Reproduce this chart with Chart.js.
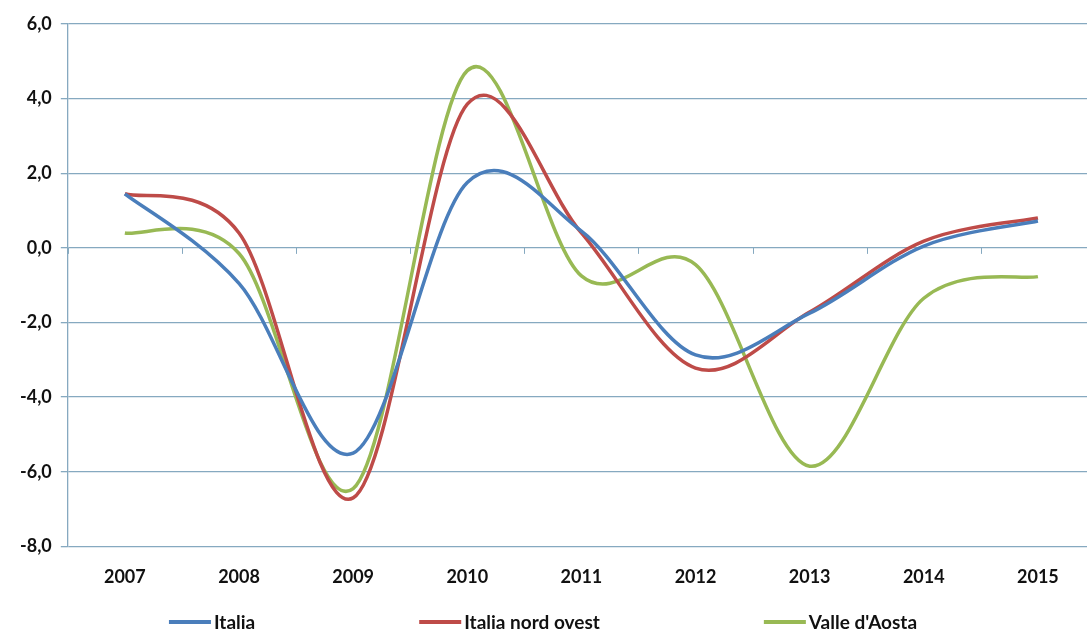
<!DOCTYPE html>
<html>
<head>
<meta charset="utf-8">
<script src="https://cdn.jsdelivr.net/npm/chart.js@4.4.1/dist/chart.umd.min.js"></script>
<style>
  html, body { margin: 0; padding: 0; background: #ffffff; overflow: hidden; }
  #wrap { width: 1095px; height: 631px; }
</style>
</head>
<body>
<div id="wrap"><canvas id="c" width="1095" height="631"></canvas></div>
<script>
// Annual change (%), 2007-2015
const years = ['2007', '2008', '2009', '2010', '2011', '2012', '2013', '2014', '2015'];
const italia = [1.45, -0.95, -5.5, 1.75, 0.45, -2.87, -1.75, 0.05, 0.72];
const italiaNordOvest = [1.45, 0.4, -6.7, 3.85, 0.4, -3.22, -1.72, 0.18, 0.8];
const valleDAosta = [0.4, -0.15, -6.45, 4.75, -0.75, -0.45, -5.85, -1.35, -0.77];
const seriesNames = ['Italia', 'Italia nord ovest', "Valle d'Aosta"];
const seriesColors = ['#4a7ebb', '#be4b48', '#98b954'];

const yMin = -8, yMax = 6, yStep = 2;
const gridColor = '#86a9c0';
const fontFamily = 'Lato, "Open Sans", sans-serif';
const tickFontSize = 18;
const legendFontSize = 19;

// smooth curves: Catmull-Rom style control points (1/6 of the neighbour span)
const catmullRom = {
  id: 'catmullRom',
  beforeDatasetDraw(chart, args) {
    const meta = args.meta;
    const pts = meta.data;
    for (let i = 0; i < pts.length; i++) {
      const p = pts[i];
      const prev = pts[i - 1] || p;
      const next = pts[i + 1] || p;
      const dx = (next.x - prev.x) / 6;
      const dy = (next.y - prev.y) / 6;
      p.cp1x = p.x - dx; p.cp1y = p.y - dy;
      p.cp2x = p.x + dx; p.cp2y = p.y + dy;
    }
    meta.dataset._pointsUpdated = true;
  }
};

// small tick marks along the zero line, between categories
const zeroLineTicks = {
  id: 'zeroLineTicks',
  afterDatasetsDraw(chart) {
    const xs = chart.scales.x, ys = chart.scales.y;
    const ctx = chart.ctx;
    const y0 = ys.getPixelForValue(0);
    const half = (xs.getPixelForValue(1) - xs.getPixelForValue(0)) / 2;
    ctx.save();
    ctx.strokeStyle = gridColor;
    ctx.lineWidth = 1;
    for (let i = 0; i <= years.length; i++) {
      const x = Math.round(xs.getPixelForValue(i) - half) + 0.5;
      ctx.beginPath();
      ctx.moveTo(x, y0);
      ctx.lineTo(x, y0 + 6);
      ctx.stroke();
    }
    ctx.restore();
  }
};

// legend row with wide, even spacing between entries
const spacedLegend = {
  id: 'spacedLegend',
  afterDraw(chart) {
    const ctx = chart.ctx;
    const lineLen = 42, textGap = 3, itemGap = 164;
    const centerX = 543, y = 622;
    ctx.save();
    ctx.font = `bold ${legendFontSize}px ${fontFamily}`;
    ctx.textBaseline = 'middle';
    ctx.textAlign = 'left';
    const items = chart.data.datasets.map(ds => ({
      text: ds.label,
      color: ds.borderColor,
      w: lineLen + textGap + ctx.measureText(ds.label).width
    }));
    const total = items.reduce((s, it) => s + it.w, 0) + itemGap * (items.length - 1);
    let x = centerX - total / 2;
    items.forEach(it => {
      ctx.strokeStyle = it.color;
      ctx.lineWidth = 4;
      ctx.beginPath();
      ctx.moveTo(x, y);
      ctx.lineTo(x + lineLen, y);
      ctx.stroke();
      ctx.fillStyle = '#111111';
      ctx.fillText(it.text, x + lineLen + textGap, y + 1);
      x += it.w + itemGap;
    });
    ctx.restore();
  }
};

const data = {
  labels: years,
  datasets: [italia, italiaNordOvest, valleDAosta].map((vals, i) => ({
    label: seriesNames[i],
    data: vals,
    borderColor: seriesColors[i],
    backgroundColor: seriesColors[i],
    borderWidth: 3.5,
    pointRadius: 0,
    tension: 0.4,
    fill: false
  }))
};

new Chart(document.getElementById('c'), {
  type: 'line',
  data,
  plugins: [catmullRom, zeroLineTicks, spacedLegend],
  options: {
    responsive: false,
    animation: false,
    layout: { padding: { left: 11, right: 0, top: 24, bottom: 32 } },
    plugins: {
      tooltip: { enabled: false },
      legend: { display: false }
    },
    scales: {
      x: {
        offset: true,
        grid: { display: false },
        border: { display: false },
        ticks: {
          color: '#111111',
          font: { family: fontFamily, size: tickFontSize, weight: 'bold' },
          padding: 11.5,
          maxRotation: 0
        }
      },
      y: {
        min: yMin,
        max: yMax,
        grid: {
          color: gridColor,
          lineWidth: 1.3,
          tickLength: 7
        },
        border: { display: true, color: gridColor, width: 1.3 },
        ticks: {
          stepSize: yStep,
          color: '#111111',
          font: { family: fontFamily, size: tickFontSize, weight: 'bold' },
          padding: 9,
          callback: v => v.toFixed(1).replace('.', ',')
        }
      }
    }
  }
});
</script>
</body>
</html>
